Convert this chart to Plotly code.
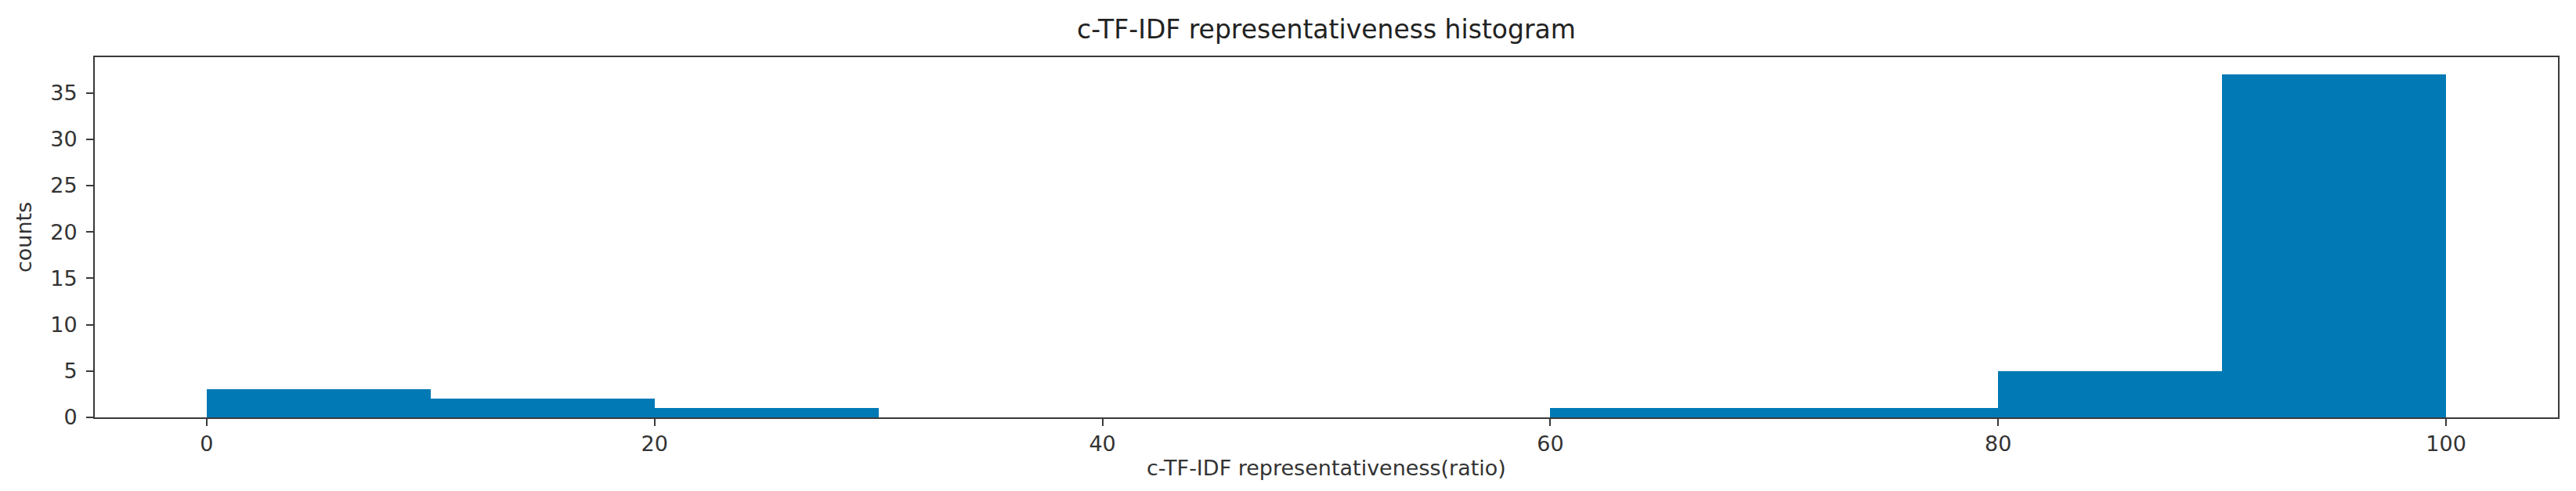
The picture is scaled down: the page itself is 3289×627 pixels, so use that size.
import plotly.graph_objects as go

# Histogram data (bins of width 10 from 0 to 100)
bin_edges = [0, 10, 20, 30, 40, 50, 60, 70, 80, 90, 100]
counts = [3, 2, 1, 0, 0, 0, 1, 1, 5, 37]
x_ticks = [0, 20, 40, 60, 80, 100]
y_ticks = [0, 5, 10, 15, 20, 25, 30, 35]

title_text = "c-TF-IDF representativeness histogram"
x_title = "c-TF-IDF representativeness(ratio)"
y_title = "counts"

W, H = 3289, 627
L, R, T, B = 113, 31, 65, 102
FONT = "DejaVu Sans"
BAR_COLOR = "#0179b5"

lefts = bin_edges[:-1]
widths = [b - a for a, b in zip(bin_edges[:-1], bin_edges[1:])]
centers = [a + w / 2 for a, w in zip(lefts, widths)]

fig = go.Figure(
    go.Bar(
        x=centers,
        y=counts,
        width=widths,
        marker=dict(color=BAR_COLOR, line=dict(width=0)),
        showlegend=False,
    )
)

ymax = max(counts) * 1.05
span = bin_edges[-1] - bin_edges[0]
xmin = bin_edges[0] - 0.05 * span
xmax = bin_edges[-1] + 0.05 * span

axis_common = dict(
    showgrid=False,
    zeroline=False,
    showline=True,
    linecolor="#3a3a3a",
    linewidth=2,
    mirror=True,
    ticks="outside",
    ticklen=9,
    tickwidth=2,
    tickcolor="#3a3a3a",
    tickfont=dict(family=FONT, size=27, color="#333333"),
)

fig.update_layout(
    width=W,
    height=H,
    margin=dict(l=L, r=R, t=T, b=B),
    paper_bgcolor="white",
    plot_bgcolor="white",
    bargap=0,
    title=dict(
        text=title_text,
        x=0.5,
        xref="paper",
        xanchor="center",
        y=1 - 29 / H,
        yref="container",
        yanchor="middle",
        font=dict(family=FONT, size=33, color="#222222"),
    ),
    xaxis=dict(range=[xmin, xmax], tickvals=x_ticks, **axis_common),
    yaxis=dict(range=[0, ymax], tickvals=y_ticks, ticklabelstandoff=6, **axis_common),
    annotations=[
        dict(
            text=x_title,
            x=0.5,
            xref="paper",
            y=0,
            yref="paper",
            yshift=-64,
            xanchor="center",
            yanchor="middle",
            showarrow=False,
            font=dict(family=FONT, size=27, color="#333333"),
        ),
        dict(
            text=y_title,
            x=0,
            xref="paper",
            y=0.5,
            yref="paper",
            xshift=-91,
            textangle=-90,
            xanchor="center",
            yanchor="middle",
            showarrow=False,
            font=dict(family=FONT, size=27, color="#333333"),
        ),
    ],
)

fig.write_html("out.html")
